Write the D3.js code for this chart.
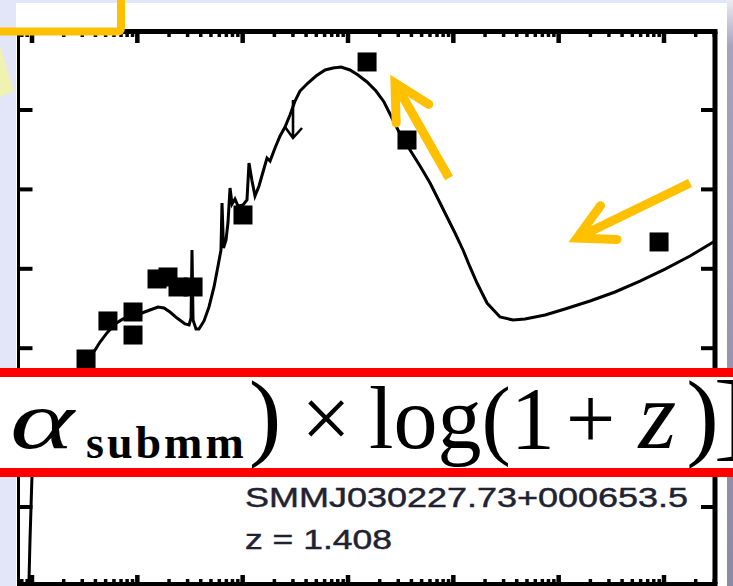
<!DOCTYPE html>
<html>
<head>
<meta charset="utf-8">
<script src="https://cdn.jsdelivr.net/npm/d3@7"></script>
<style>
  html, body { margin: 0; padding: 0; background: #e3e6f8; overflow: hidden; }
  svg { display: block; }
</style>
</head>
<body>
<svg id="chart" width="733" height="586"></svg>
<script>
// Model SED of the source: log10 rest wavelength (µm) and log10 flux
const sedLogLambda = [-1.033,-1.019,-0.991,-0.953,-0.877,-0.734,-0.563,-0.402,-0.354,-0.288,-0.212,-0.136,-0.041,0.044,0.120,0.196,0.253,0.310,0.377,0.453,0.491,0.510,0.519,0.529,0.557,0.585,0.633,0.680,0.728,0.766,0.794,0.804,0.818,0.842,0.861,0.880,0.899,0.927,0.956,1.003,1.041,1.060,1.089,1.117,1.155,1.193,1.231,1.260,1.307,1.355,1.402,1.449,1.497,1.544,1.620,1.696,1.782,1.858,1.934,2.019,2.095,2.181,2.266,2.342,2.427,2.494,2.589,2.684,2.779,2.874,2.940,3.016,3.092,3.158,3.225,3.320,3.443,3.567,3.681,3.871,4.060,4.298,4.535,4.772,5.010,5.247,5.484,5.579];
const sedLogFlux = [-6.171,-5.416,-4.219,-3.778,-3.552,-3.400,-3.275,-3.023,-2.922,-2.808,-2.695,-2.632,-2.594,-2.557,-2.519,-2.481,-2.494,-2.544,-2.620,-2.695,-2.708,-2.620,-1.763,-2.645,-2.758,-2.758,-2.657,-2.481,-2.229,-1.965,-1.763,-1.171,-1.738,-1.637,-1.411,-0.982,-1.184,-1.121,-1.209,-1.196,-1.133,-0.667,-0.894,-1.083,-0.957,-0.781,-0.605,-0.642,-0.479,-0.327,-0.214,-0.063,0.113,0.239,0.340,0.428,0.504,0.529,0.542,0.504,0.441,0.353,0.239,0.101,-0.126,-0.302,-0.504,-0.705,-0.919,-1.171,-1.348,-1.549,-1.763,-1.977,-2.179,-2.431,-2.607,-2.645,-2.632,-2.582,-2.506,-2.405,-2.292,-2.154,-2.003,-1.839,-1.650,-1.587];

// Photometry (filled squares)
const photLogLambda = [-0.487,-0.279,-0.041,-0.041,0.187,0.291,0.386,0.529,1.003,2.181,2.560,4.953];
const photLogFlux   = [-3.136,-2.657,-2.544,-2.834,-2.128,-2.103,-2.229,-2.229,-1.322,0.605,-0.378,-1.662];

// Upper limit (downward arrow)
const limitLogLambda = [1.478];
const limitLogFlux   = [0.126];

// Highlight arrows: tip and tail, same units
const arrowTipLogLambda  = [2.446, 4.174];
const arrowTipLogFlux    = [0.340, -1.612];
const arrowTailLogLambda = [2.959, 5.247];
const arrowTailLogFlux   = [-0.856, -0.919];

const sourceName = "SMMJ030227.73+000653.5";
const redshiftLabel = "z = 1.408";

const pow10 = v => Math.pow(10, v);
const svg = d3.select("#chart");

// ---- slide backdrop ----
const defs = svg.append("defs");
const grad = defs.append("linearGradient").attr("id", "edge").attr("x1", 0).attr("y1", 0).attr("x2", 0).attr("y2", 1);
grad.append("stop").attr("offset", "0").attr("stop-color", "#ecebf2");
grad.append("stop").attr("offset", "0.08").attr("stop-color", "#a6a3ba");
grad.append("stop").attr("offset", "1").attr("stop-color", "#8c89a2");

svg.append("rect").attr("width", 733).attr("height", 586).attr("fill", "#e3e6f8");
svg.append("rect").attr("x", 16).attr("y", 3).attr("width", 711).attr("height", 583).attr("fill", "#ffffff");
svg.append("rect").attr("x", 727).attr("y", 0).attr("width", 6).attr("height", 586).attr("fill", "url(#edge)");

// ---- scales ----
const frame = { left: 18.5, right: 715, top: 31.5, bottom: 584 };
const x = d3.scaleLog().domain([0.1, 1e5]).range([32, 664]);
const y = d3.scaleLog().domain([1e-6, 10]).range([586.4, 30.6]);
const xf = x.copy().domain([x.invert(frame.left), x.invert(frame.right)]).range([frame.left, frame.right]);
const yf = y.copy().domain([y.invert(frame.bottom), y.invert(frame.top)]).range([frame.bottom, frame.top]);

defs.append("clipPath").attr("id", "plotClip")
  .append("rect").attr("x", frame.left).attr("y", frame.top)
  .attr("width", frame.right - frame.left).attr("height", frame.bottom - frame.top);

const plot = svg.append("g");

// ---- model curve ----
const sed = sedLogLambda.map((l, i) => [pow10(l), pow10(sedLogFlux[i])]);
plot.append("path")
  .attr("clip-path", "url(#plotClip)")
  .attr("d", d3.line().x(d => x(d[0])).y(d => y(d[1]))(sed))
  .attr("fill", "none").attr("stroke", "#000").attr("stroke-width", 3)
  .attr("stroke-linejoin", "miter");

// ---- photometry ----
const sq = 19;
plot.selectAll("rect.phot")
  .data(photLogLambda.map((l, i) => [pow10(l), pow10(photLogFlux[i])]))
  .join("rect").attr("class", "phot")
  .attr("x", d => x(d[0]) - sq / 2).attr("y", d => y(d[1]) - sq / 2)
  .attr("width", sq).attr("height", sq).attr("fill", "#000");

// ---- upper limit ----
limitLogLambda.forEach((l, i) => {
  const px = x(pow10(l)), py = y(pow10(limitLogFlux[i]));
  const len = 38;
  plot.append("path")
    .attr("d", `M${px},${py}V${py + len}M${px - 8},${py + len - 11}L${px},${py + len}L${px + 9},${py + len - 10}`)
    .attr("fill", "none").attr("stroke", "#000").attr("stroke-width", 2.6);
});

// ---- frame and ticks ----
const axisG = svg.append("g").attr("stroke", "#000");
const xt = xf.ticks();
const isDecade = v => Math.abs(Math.log10(v) - Math.round(Math.log10(v))) < 1e-9;
axisG.selectAll("line.tt").data(xt).join("line").attr("class", "tt")
  .attr("x1", d => xf(d)).attr("x2", d => xf(d))
  .attr("y1", frame.top).attr("y2", d => frame.top + (isDecade(d) ? 11.5 : 5.5))
  .attr("stroke-width", d => isDecade(d) ? 4.5 : 3.5);
axisG.selectAll("line.bt").data(xt).join("line").attr("class", "bt")
  .attr("x1", d => xf(d)).attr("x2", d => xf(d))
  .attr("y1", frame.bottom).attr("y2", d => frame.bottom - (isDecade(d) ? 9 : 5))
  .attr("stroke-width", d => isDecade(d) ? 4.5 : 3.5);
const yt = yf.ticks().filter(isDecade);
axisG.selectAll("line.lt").data(yt).join("line").attr("class", "lt")
  .attr("x1", frame.left).attr("x2", frame.left + 14)
  .attr("y1", d => yf(d)).attr("y2", d => yf(d)).attr("stroke-width", 4);
axisG.selectAll("line.rt").data(yt).join("line").attr("class", "rt")
  .attr("x1", frame.right).attr("x2", frame.right - 14)
  .attr("y1", d => yf(d)).attr("y2", d => yf(d)).attr("stroke-width", 4);
axisG.append("line").attr("x1", frame.left - 1.5).attr("x2", frame.right + 2.5).attr("y1", frame.top).attr("y2", frame.top).attr("stroke-width", 5);
axisG.append("line").attr("x1", frame.left - 1.5).attr("x2", frame.right + 2.5).attr("y1", frame.bottom).attr("y2", frame.bottom).attr("stroke-width", 4);
axisG.append("line").attr("x1", frame.left).attr("x2", frame.left).attr("y1", frame.top).attr("y2", frame.bottom).attr("stroke-width", 3);
axisG.append("line").attr("x1", frame.right).attr("x2", frame.right).attr("y1", frame.top).attr("y2", frame.bottom).attr("stroke-width", 5);

// ---- source labels ----
const labelFont = "'Liberation Sans', Arial, sans-serif";
[[sourceName, 507, 443], [redshiftLabel, 549, 147]].forEach(([t, ty, w]) => {
  svg.append("text").attr("x", 245).attr("y", ty).text(t)
    .attr("font-family", labelFont).attr("font-size", 28).attr("fill", "#1f2232")
    .attr("stroke", "#1f2232").attr("stroke-width", 0.45)
    .attr("textLength", w).attr("lengthAdjust", "spacingAndGlyphs");
});

// ---- highlight arrows ----
const orange = "#ffc000";
arrowTipLogLambda.forEach((l, i) => {
  const tx = x(pow10(l)), ty = y(pow10(arrowTipLogFlux[i]));
  const ex = x(pow10(arrowTailLogLambda[i])), ey = y(pow10(arrowTailLogFlux[i]));
  const ang = Math.atan2(ey - ty, ex - tx);
  const half = 28 * Math.PI / 180, arm = 40;
  const a1 = [tx + arm * Math.cos(ang - half), ty + arm * Math.sin(ang - half)];
  const a2 = [tx + arm * Math.cos(ang + half), ty + arm * Math.sin(ang + half)];
  svg.append("line").attr("x1", tx).attr("y1", ty).attr("x2", ex).attr("y2", ey)
    .attr("stroke", orange).attr("stroke-width", 9);
  svg.append("path").attr("d", `M${a1[0]},${a1[1]}L${tx},${ty}L${a2[0]},${a2[1]}`)
    .attr("fill", "none").attr("stroke", orange).attr("stroke-width", 9)
    .attr("stroke-linecap", "round").attr("stroke-linejoin", "miter").attr("stroke-miterlimit", 10);
});

// ---- equation banner ----
svg.append("rect").attr("x", 0).attr("y", 368).attr("width", 733).attr("height", 109).attr("fill", "#ffffff");
svg.append("rect").attr("x", 0).attr("y", 368).attr("width", 733).attr("height", 9).attr("fill", "#ff0000");
svg.append("rect").attr("x", 0).attr("y", 468).attr("width", 733).attr("height", 9).attr("fill", "#ff0000");

const serif = "'Liberation Serif', 'Times New Roman', serif";
const base = 448;
svg.append("text").attr("x", 10).attr("y", base).attr("font-family", serif)
  .attr("font-size", 82).attr("font-style", "italic")
  .attr("textLength", 64).attr("lengthAdjust", "spacingAndGlyphs").text("α");

// rest of the expression flows as one line; dx opens the math spacing
const eq = svg.append("text").attr("x", 86).attr("y", base).attr("font-family", serif)
  .attr("font-size", 88).attr("fill", "#000");
const pieces = [
  { t: "submm", dy: 10, size: 46, weight: "bold", ls: 3 },
  { t: ")", dy: -10, dx: 2, size: 98 },
  { t: "×", dx: 20 },
  { t: "log(1", dx: 18 },
  { t: "+", dx: 11 },
  { t: "z", dx: 23, size: 97, style: "italic" },
  { t: ")]", dx: 10, size: 98, ls: -5 }
];
pieces.forEach(p => {
  const ts = eq.append("tspan").text(p.t);
  if (p.dx) ts.attr("dx", p.dx);
  if (p.dy) ts.attr("dy", p.dy);
  if (p.size) ts.attr("font-size", p.size);
  if (p.weight) ts.attr("font-weight", p.weight);
  if (p.style) ts.attr("font-style", p.style);
  if (p.ls) ts.attr("letter-spacing", p.ls);
});

// ---- slide decorations at the top-left ----
svg.append("path").attr("d", "M0,46L14,91L0,97Z").attr("fill", "#eff2b0");
svg.append("path").attr("d", "M-10,31.5H117Q121,31.5 121,27.5V-10")
  .attr("fill", "none").attr("stroke", orange).attr("stroke-width", 8);
</script>
</body>
</html>
